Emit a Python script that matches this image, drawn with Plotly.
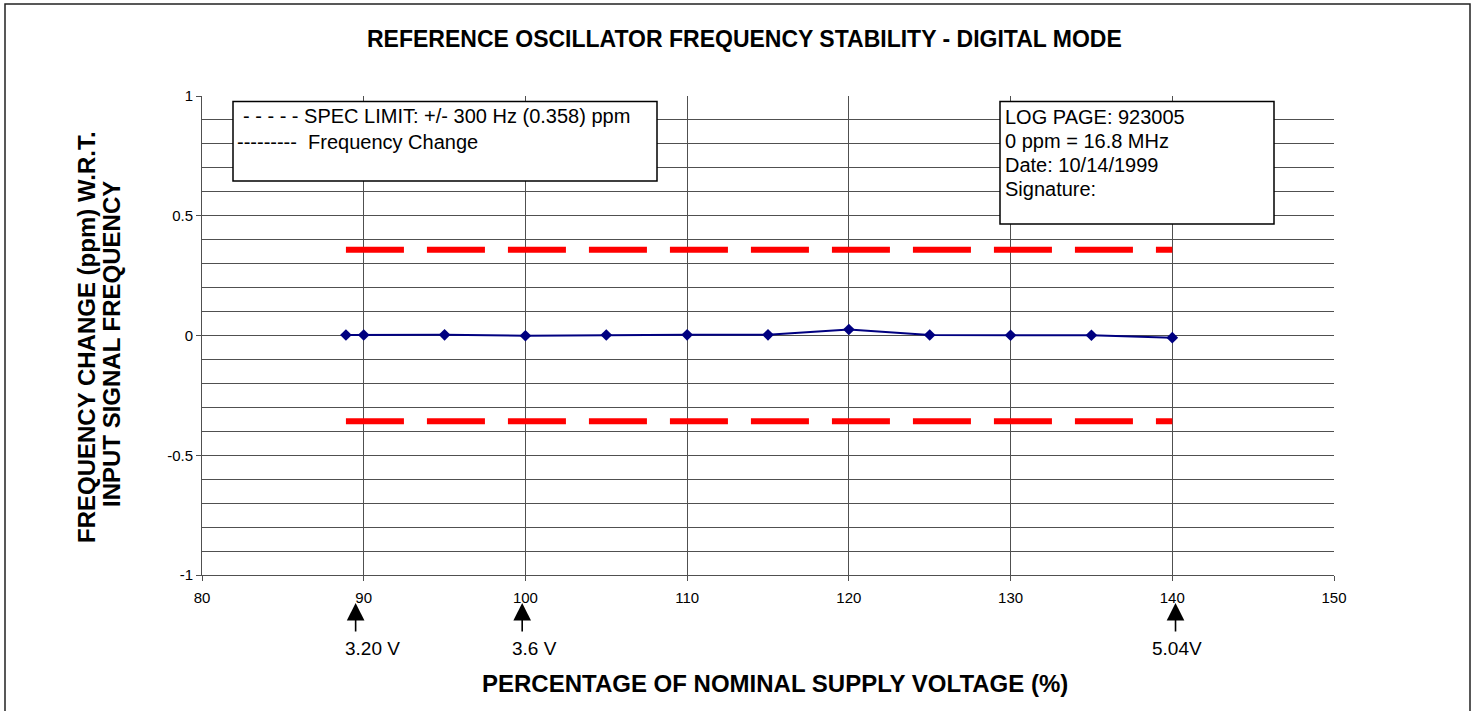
import plotly.graph_objects as go

# ---------------- data ----------------
X_PCT = [88.9, 90, 95, 100, 105, 110, 115, 120, 125, 130, 135, 140]
Y_PPM = [0.002, 0.002, 0.003, -0.001, 0.002, 0.003, 0.003, 0.025, 0.002, 0.001, 0.001, -0.009]
SPEC_LIMIT_PPM = 0.358

X_TICKS = [80, 90, 100, 110, 120, 130, 140, 150]
X_TICK_LABELS = ["80", "90", "100", "110", "120", "130", "140", "150"]
Y_TICKS = [-1, -0.5, 0, 0.5, 1]
Y_TICK_LABELS = ["-1", "-0.5", "0", "0.5", "1"]

VOLT_MARK_X = [89.5, 99.8, 140.2]
VOLT_LABEL_X = [90.57, 100.53, 140.32]
VOLT_LABELS = ["3.20 V", "3.6 V", "5.04V"]

TITLE = "REFERENCE OSCILLATOR FREQUENCY STABILITY - DIGITAL MODE"
X_TITLE = "PERCENTAGE OF NOMINAL SUPPLY VOLTAGE (%)"
Y_TITLE_LINES = ["FREQUENCY CHANGE (ppm) W.R.T.", "INPUT SIGNAL FREQUENCY"]
LEGEND_LINES = ["- - - - - SPEC LIMIT: +/- 300 Hz (0.358) ppm", "---------  Frequency Change"]
INFO_LINES = ["LOG PAGE: 923005", "0 ppm = 16.8 MHz", "Date: 10/14/1999", "Signature:"]

# ---------------- layout geometry ----------------
FIG_W, FIG_H = 1478, 711
ML, MR, MT, MB = 202, 144, 96, 136
PW = FIG_W - ML - MR
PH = FIG_H - MT - MB
FONT = "Arial, 'Liberation Sans', sans-serif"
GRID = "#505050"


def px_x(px):
    return (px - ML) / PW


def px_y(py):
    return (FIG_H - MB - py) / PH


fig = go.Figure()

spec_x = [X_PCT[0], X_PCT[-1]]
for sgn in (1, -1):
    fig.add_trace(go.Scatter(
        x=spec_x, y=[sgn * SPEC_LIMIT_PPM] * 2, mode="lines",
        line=dict(color="#ff0000", width=6, dash="58px,23px"),
        showlegend=False, hoverinfo="skip"))

fig.add_trace(go.Scatter(
    x=X_PCT, y=Y_PPM, mode="lines+markers",
    line=dict(color="#000080", width=2),
    marker=dict(symbol="diamond", size=9, color="#000080"),
    showlegend=False))

shapes = []
annotations = []

# outer frame
shapes.append(dict(type="rect", xref="paper", yref="paper",
                   x0=px_x(5), x1=px_x(1470), y0=px_y(722), y1=px_y(4),
                   line=dict(color="#222222", width=1.5), fillcolor="rgba(0,0,0,0)", layer="above"))
# legend box
shapes.append(dict(type="rect", xref="paper", yref="paper",
                   x0=px_x(233), x1=px_x(657), y0=px_y(181), y1=px_y(101.5),
                   line=dict(color="#000000", width=1.5), fillcolor="white", layer="above"))
# info box
shapes.append(dict(type="rect", xref="paper", yref="paper",
                   x0=px_x(1000), x1=px_x(1274), y0=px_y(224), y1=px_y(101.5),
                   line=dict(color="#000000", width=1.5), fillcolor="white", layer="above"))

# title
annotations.append(dict(text="<b>%s</b>" % TITLE, xref="paper", yref="paper",
                        x=px_x(744.5), y=px_y(39), xanchor="center", yanchor="middle",
                        showarrow=False, font=dict(family=FONT, size=23, color="black")))
# x title
annotations.append(dict(text="<b>%s</b>" % X_TITLE, xref="paper", yref="paper",
                        x=px_x(774.5), y=px_y(683), xanchor="center", yanchor="middle",
                        showarrow=False, font=dict(family=FONT, size=24, color="black")))
# y title (two lines)
for line, cx, cy in zip(Y_TITLE_LINES, [86, 111], [337, 344]):
    annotations.append(dict(text="<b>%s</b>" % line, xref="paper", yref="paper",
                            x=px_x(cx), y=px_y(cy), xanchor="center", yanchor="middle",
                            textangle=-90, showarrow=False,
                            font=dict(family=FONT, size=24, color="black")))

# legend text
for line, lx, cy in zip(LEGEND_LINES, [240.5, 234.5], [116, 141.5]):
    annotations.append(dict(text=line, xref="paper", yref="paper",
                            x=px_x(lx), y=px_y(cy), xanchor="left", yanchor="middle",
                            showarrow=False, font=dict(family=FONT, size=20, color="black")))

# info text
for line, cy in zip(INFO_LINES, [116.5, 141, 165, 189]):
    annotations.append(dict(text=line, xref="paper", yref="paper",
                            x=px_x(1003), y=px_y(cy), xanchor="left", yanchor="middle",
                            showarrow=False, font=dict(family=FONT, size=20, color="black")))

# voltage markers
for mx, lx, lab in zip(VOLT_MARK_X, VOLT_LABEL_X, VOLT_LABELS):
    annotations.append(dict(text="", x=mx, xref="x", y=px_y(603), yref="paper",
                            showarrow=True, ax=0, ay=30, arrowhead=2, arrowsize=2.2,
                            arrowwidth=1.6, arrowcolor="black", standoff=0))
    annotations.append(dict(text=lab, x=lx, xref="x", y=px_y(648), yref="paper",
                            xanchor="center", yanchor="middle", showarrow=False,
                            font=dict(family=FONT, size=19, color="black")))

fig.update_layout(
    width=FIG_W, height=FIG_H,
    margin=dict(l=ML, r=MR, t=MT, b=MB, pad=0),
    paper_bgcolor="white", plot_bgcolor="white",
    font=dict(family=FONT, size=15, color="black"),
    shapes=shapes, annotations=annotations,
    showlegend=False,
    xaxis=dict(range=[80, 150], tickvals=X_TICKS, ticktext=X_TICK_LABELS,
               showgrid=True, gridcolor=GRID, gridwidth=1,
               showline=True, linecolor=GRID, linewidth=1,
               ticks="outside", ticklen=5, tickcolor=GRID, ticklabelstandoff=4,
               zeroline=False, tickfont=dict(size=15), fixedrange=True),
    yaxis=dict(range=[-1, 1], tickvals=Y_TICKS, ticktext=Y_TICK_LABELS,
               showgrid=True, gridcolor=GRID, gridwidth=1,
               showline=True, linecolor=GRID, linewidth=1,
               ticks="outside", ticklen=5, tickcolor=GRID,
               minor=dict(dtick=0.1, tick0=0, showgrid=True, gridcolor=GRID, gridwidth=1, ticks=""),
               zeroline=False, tickfont=dict(size=15), fixedrange=True),
)

fig.write_html(
    "out.html",
    config={"displayModeBar": False},
    post_script="document.body.style.margin='0';document.body.style.padding='0';"
                "document.body.style.overflow='hidden';",
)
